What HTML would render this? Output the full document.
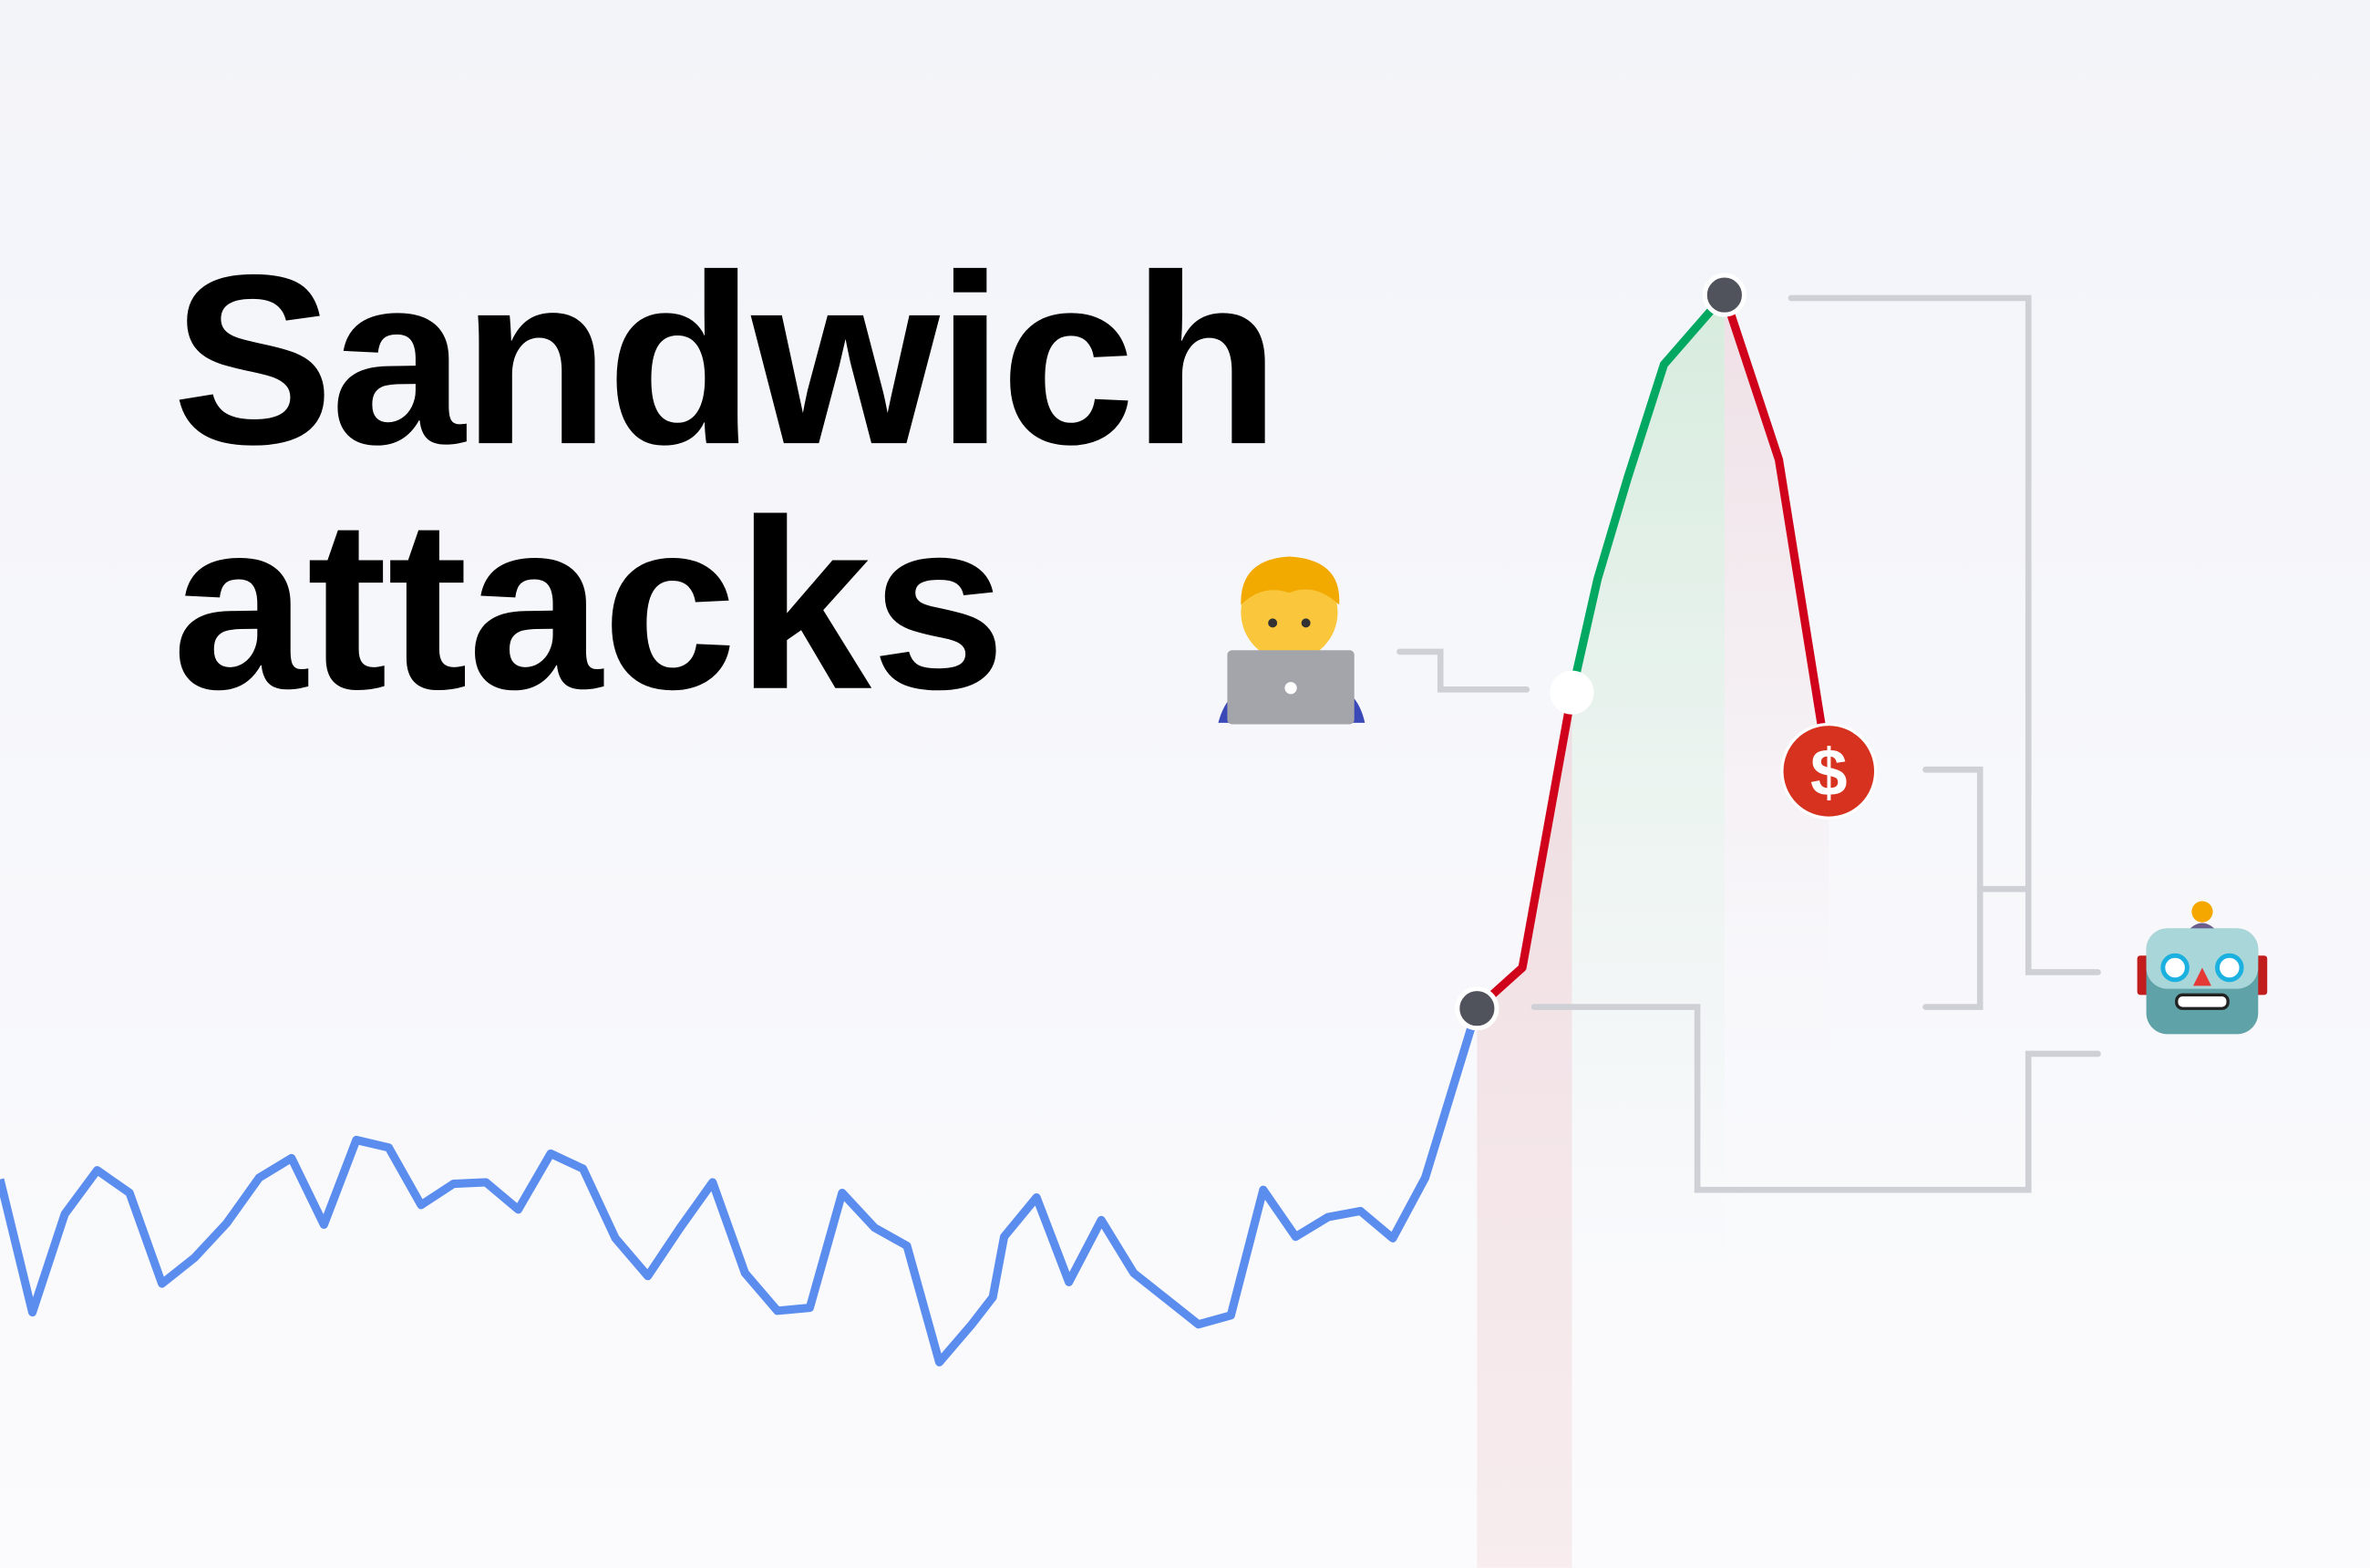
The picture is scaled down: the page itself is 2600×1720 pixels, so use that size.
<!DOCTYPE html>
<html><head><meta charset="utf-8"><style>
html,body{margin:0;padding:0;width:2600px;height:1720px;overflow:hidden;background:#f7f8fc}
svg{display:block}
</style></head><body>
<svg width="2600" height="1720" viewBox="0 0 1568 1037" xmlns="http://www.w3.org/2000/svg">
<defs>
<linearGradient id="bg" x1="0" y1="0" x2="0" y2="1"><stop offset="0" stop-color="#f3f4f9"/><stop offset="1" stop-color="#fbfbfd"/></linearGradient>
<linearGradient id="gRed" x1="0" y1="0" x2="0" y2="1"><stop offset="0" stop-color="#e8c9cf" stop-opacity="0.55"/><stop offset="1" stop-color="#f4dede" stop-opacity="0.5"/></linearGradient>
<linearGradient id="gGreen" x1="0" y1="0" x2="0" y2="1"><stop offset="0" stop-color="#cfe9d6" stop-opacity="0.8"/><stop offset="1" stop-color="#e4f2e8" stop-opacity="0"/></linearGradient>
<linearGradient id="gPink" x1="0" y1="0" x2="0" y2="1"><stop offset="0" stop-color="#ecd6dc" stop-opacity="0.7"/><stop offset="1" stop-color="#f4e6ea" stop-opacity="0"/></linearGradient>
</defs>
<rect width="1568" height="1037" fill="url(#bg)"/>
<g id="fills"></g>
<g fill="none" stroke="#cfd0d5" stroke-width="4" stroke-linecap="round">
<polyline points="1185,197 1342,197 1342,643 1388,643"/>
<polyline points="1310,588 1342,588"/>
<polyline points="1274,509 1310,509 1310,666 1274,666"/>
<polyline points="1015,666 1123,666 1123,787 1342,787 1342,697 1388,697"/>
<polyline points="926,431 953,431 953,456 1010,456"/>
</g>
<g id="lines"></g>
<text x="114" y="293" font-family="Liberation Sans, sans-serif" font-weight="700" font-size="160" fill="#000" letter-spacing="-2">Sandwich</text>
<text x="114" y="455" font-family="Liberation Sans, sans-serif" font-weight="700" font-size="160" fill="#000" letter-spacing="0">attacks</text>
<g>
<path d="M806,478 Q812,455 832,452 L878,452 Q898,455 903,478 Z" fill="#3b49b8"/>
<circle cx="853" cy="405" r="32" fill="#f9c63c"/>
<path d="M821,400 Q820,370 853,368 Q888,370 886,400 Q870,385 853,392 Q835,386 821,400Z" fill="#f2a900"/>
<circle cx="842" cy="412" r="3" fill="#333"/><circle cx="864" cy="412" r="3" fill="#333"/>
<rect x="812" y="430" width="84" height="49" rx="3" fill="#a3a5ab"/>
<circle cx="854" cy="455" r="4" fill="#fff"/>
</g>
<g>
<circle cx="1457" cy="603" r="7" fill="#f5a700"/>
<path d="M1448,615 Q1457,606 1466,615 Z" fill="#6b5d8c"/>
<rect x="1414" y="632" width="8" height="26" rx="2" fill="#c21d1d"/>
<rect x="1492" y="632" width="8" height="26" rx="2" fill="#c21d1d"/>
<rect x="1420" y="614" width="74" height="70" rx="14" fill="#5fa2a8"/>
<rect x="1420" y="614" width="74" height="40" rx="14" fill="#a9d6d8"/>
<circle cx="1439" cy="640" r="8" fill="#fff" stroke="#1ab0e0" stroke-width="3"/>
<circle cx="1475" cy="640" r="8" fill="#fff" stroke="#1ab0e0" stroke-width="3"/>
<path d="M1457,640 L1463,652 L1451,652Z" fill="#e53935"/>
<rect x="1440" y="658" width="34" height="9" rx="4" fill="#fff" stroke="#222" stroke-width="2"/>
</g>
<script>
var times=[0,1,2,3,4,5,6,7,8,9,10,11,12,13,14,15,16,17,18,19,20,21,22,23,24,25,26,27,28,29,30,30.65,31,32,33,34,35,36,37,38,39,40,41,42,43,44,45.6];
var prices=[257,169,234,263,248,188,205,228,258,271,227,283,278,240,254,255,237,274,264,218,193,225,255,195,170,172,248,225,213,136,161,179,219,245,189,230,195,178,161,167,250,219,232,236,218,258,370];
var frontTimes=[45.6,47,48.53];
var frontPrices=[370,397,579];
var victimTimes=[48.53,49.32,50.25,51.37,53.24];
var victimPrices=[579,654,721,796,842];
var backTimes=[53.24,54.92,56.46];
var backPrices=[842,733,527];
var NS='http://www.w3.org/2000/svg';
function xs(t){return t*21.43;}
function ys(p){return 1037-p;}
function pts(T,P){return T.map(function(t,i){return xs(t)+','+ys(P[i]);}).join(' ');}
var L=document.getElementById('lines'),F=document.getElementById('fills');
function poly(T,P,color,name){var e=document.createElementNS(NS,'polyline');
e.setAttribute('points',pts(T,P));e.setAttribute('fill','none');e.setAttribute('stroke',color);e.setAttribute('stroke-width','5.5');e.setAttribute('stroke-linejoin','round');


L.appendChild(e);}
function area(T,P,fill,base,name){var e=document.createElementNS(NS,'polygon');
e.setAttribute('points',pts(T,P)+' '+xs(T[T.length-1])+','+base+' '+xs(T[0])+','+base);e.setAttribute('fill',fill);


F.appendChild(e);}
area(frontTimes,frontPrices,'url(#gRed)',1037,'frontrun-area');
area(victimTimes,victimPrices,'url(#gGreen)',840,'victim-area');
area(backTimes,backPrices,'url(#gPink)',700,'backrun-area');
poly(times,prices,'#5b8def','price-line');
poly(frontTimes,frontPrices,'#d0021b','frontrun-line');
poly(victimTimes,victimPrices,'#00a862','victim-line');
poly(backTimes,backPrices,'#d0021b','backrun-line');
function dot(t,p,fill,name){var c=document.createElementNS(NS,'circle');c.setAttribute('cx',xs(t));c.setAttribute('cy',ys(p));c.setAttribute('r','13');c.setAttribute('fill',fill);c.setAttribute('stroke','#fff');c.setAttribute('stroke-width','3');


L.appendChild(c);}
dot(frontTimes[0],frontPrices[0],'#50525c','frontrun-start-point');
dot(victimTimes[0],victimPrices[0],'#ffffff','victim-trade-point');
dot(backTimes[0],backPrices[0],'#50525c','peak-point');
var bt=backTimes[backTimes.length-1],bp=backPrices[backPrices.length-1];
var g=document.createElementNS(NS,'g');


var c=document.createElementNS(NS,'circle');c.setAttribute('cx',xs(bt));c.setAttribute('cy',ys(bp));c.setAttribute('r','31');c.setAttribute('fill','#d7311f');c.setAttribute('stroke','#fff');c.setAttribute('stroke-width','2');g.appendChild(c);
var tx=document.createElementNS(NS,'text');tx.setAttribute('x',xs(bt));tx.setAttribute('y',ys(bp)+16);tx.setAttribute('text-anchor','middle');tx.setAttribute('font-family','Liberation Sans, sans-serif');tx.setAttribute('font-weight','700');tx.setAttribute('font-size','44');tx.setAttribute('fill','#fff');tx.textContent='$';g.appendChild(tx);
L.appendChild(g);
</script>
</svg>
</body></html>
